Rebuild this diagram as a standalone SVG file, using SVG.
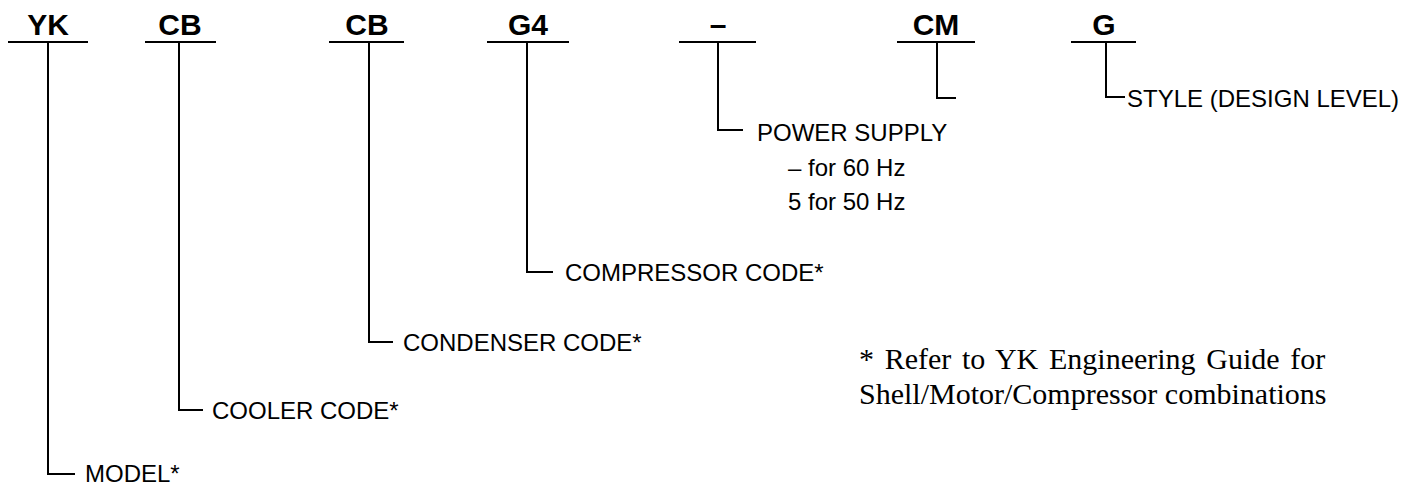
<svg xmlns="http://www.w3.org/2000/svg" width="1414" height="487" viewBox="0 0 1414 487">
<style>
.code{font-family:"Liberation Sans",Arial,sans-serif;font-weight:bold;font-size:30px;fill:#000;text-anchor:middle}
.lbl{font-family:"Liberation Sans",Arial,sans-serif;font-size:24px;fill:#000}
.note{font-family:"Liberation Serif","Times New Roman",serif;font-size:30px;fill:#000}
.ln{fill:none;stroke:#000;stroke-width:2}
</style>
<rect width="1414" height="487" fill="#fff"/>
<g id="n-yk"><text class="code" x="48" y="35">YK</text><text class="lbl" x="85" y="482">MODEL*</text></g>
<g id="n-cooler"><text class="code" x="180" y="35">CB</text><text class="lbl" x="212" y="419">COOLER CODE*</text></g>
<g id="n-condenser"><text class="code" x="367" y="35">CB</text><text class="lbl" x="403" y="351">CONDENSER CODE*</text></g>
<g id="n-compressor"><text class="code" x="528" y="35">G4</text><text class="lbl" x="565" y="281">COMPRESSOR CODE*</text></g>
<g id="n-power"><text class="code" x="718" y="35">–</text>
<text class="lbl" x="757" y="141">POWER SUPPLY</text>
<text class="lbl" x="788" y="176">– for 60 Hz</text>
<text class="lbl" x="788" y="210">5 for 50 Hz</text></g>
<g id="n-cm"><text class="code" x="936" y="35">CM</text></g>
<g id="n-style"><text class="code" x="1104" y="35">G</text><text class="lbl" x="1127" y="107">STYLE (DESIGN LEVEL)</text></g>
<g id="n-note"><text class="note" x="859" y="369" word-spacing="3.2">* Refer to YK Engineering Guide for</text>
<text class="note" x="859" y="404">Shell/Motor/Compressor combinations</text></g>
<g id="connectors">
<path class="ln" d="M8 42H88M48 42V474H75"/>
<path class="ln" d="M145 42H216M179 42V410H203"/>
<path class="ln" d="M329 42H404M369 42V342H393"/>
<path class="ln" d="M487 42H569M527 42V272H553"/>
<path class="ln" d="M679 42H756M718 42V130H743"/>
<path class="ln" d="M897 42H975M937 42V98H956"/>
<path class="ln" d="M1071 42H1136M1106 42V97H1125"/>
</g>
</svg>
